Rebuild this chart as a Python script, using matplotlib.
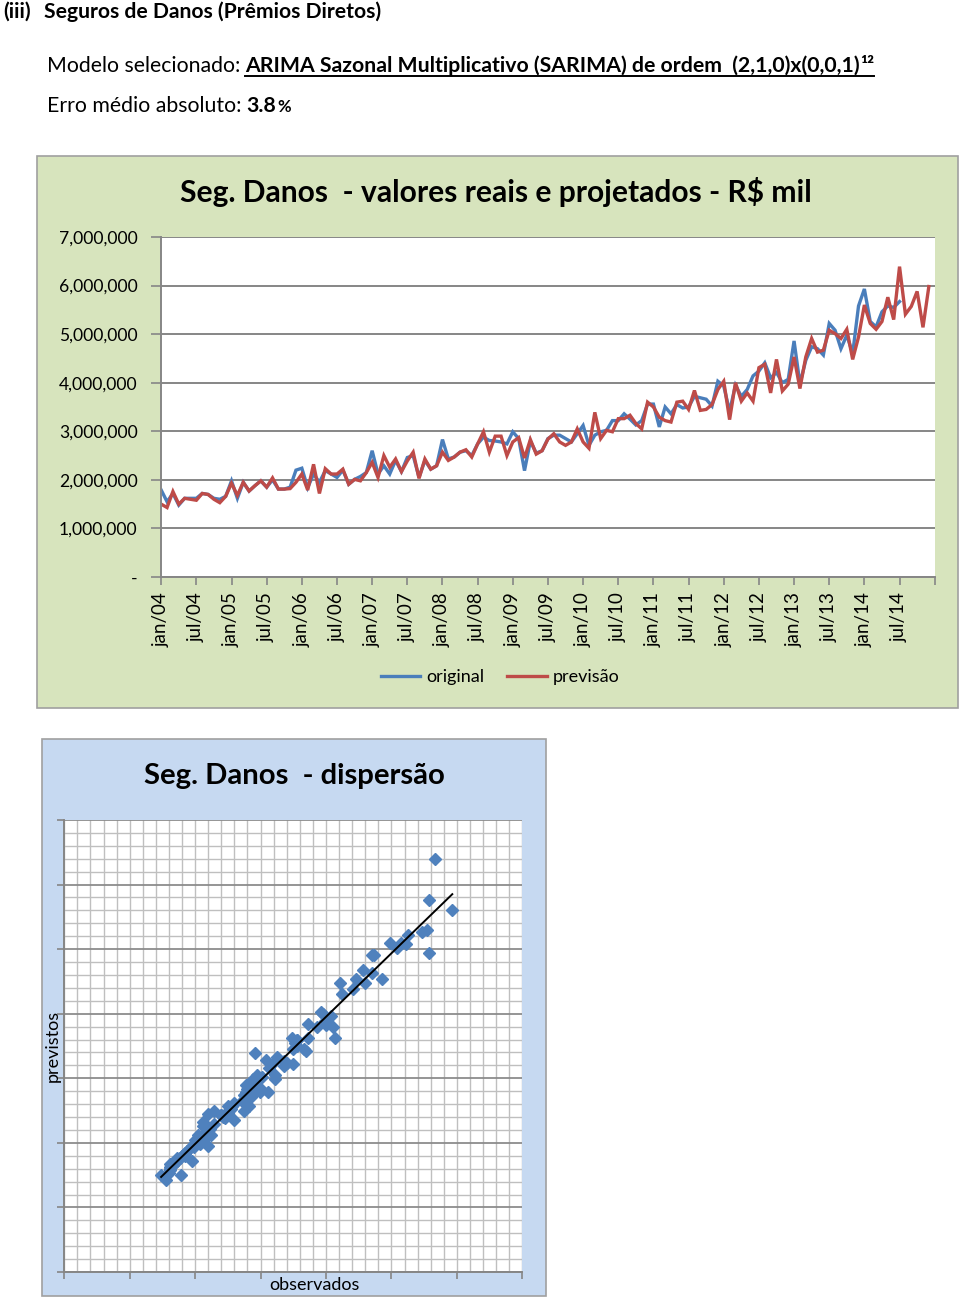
import matplotlib
matplotlib.use('Agg')
import matplotlib.pyplot as plt
from matplotlib.patches import Rectangle
from matplotlib.lines import Line2D
import numpy as np

plt.rcParams['font.family'] = ['Lato', 'DejaVu Sans']

# ---------------- data (R$ mil, in millions) ----------------
x_tick_labels = ['jan/04', 'jul/04', 'jan/05', 'jul/05', 'jan/06', 'jul/06',
                 'jan/07', 'jul/07', 'jan/08', 'jul/08', 'jan/09', 'jul/09',
                 'jan/10', 'jul/10', 'jan/11', 'jul/11', 'jan/12', 'jul/12',
                 'jan/13', 'jul/13', 'jan/14', 'jul/14', '']
y_tick_labels = ['-', '1,000,000', '2,000,000', '3,000,000', '4,000,000',
                 '5,000,000', '6,000,000', '7,000,000']

original_m = [
    1.79, 1.55, 1.72, 1.48, 1.62, 1.62, 1.62, 1.72, 1.70, 1.62, 1.60, 1.66,
    1.98, 1.62, 1.95, 1.77, 1.88, 1.98, 1.85, 2.00, 1.81, 1.81, 1.85, 2.20,
    2.24, 1.84, 2.12, 1.95, 2.19, 2.12, 2.05, 2.20, 1.91, 2.01, 2.07, 2.15,
    2.60, 2.12, 2.29, 2.12, 2.40, 2.17, 2.46, 2.50, 2.05, 2.40, 2.22, 2.29,
    2.83, 2.43, 2.47, 2.57, 2.60, 2.50, 2.74, 2.88, 2.81, 2.80, 2.78, 2.74,
    2.99, 2.85, 2.19, 2.80, 2.55, 2.60, 2.85, 2.92, 2.92, 2.85, 2.78, 2.95,
    3.12, 2.71, 2.92, 2.99, 3.02, 3.22, 3.22, 3.36, 3.25, 3.13, 3.22, 3.56,
    3.56, 3.09, 3.50, 3.36, 3.55, 3.48, 3.50, 3.72, 3.69, 3.66, 3.52, 4.03,
    3.93, 3.41, 3.95, 3.72, 3.86, 4.14, 4.24, 4.41, 4.10, 4.21, 4.00, 4.07,
    4.86, 3.98, 4.46, 4.74, 4.70, 4.57, 5.22, 5.08, 4.70, 4.98, 4.60, 5.58,
    5.93, 5.26, 5.15, 5.46, 5.58, 5.55, 5.67]

previsao_m = [
    1.50, 1.43, 1.76, 1.50, 1.62, 1.60, 1.58, 1.72, 1.70, 1.60, 1.53, 1.66,
    1.93, 1.68, 1.95, 1.77, 1.88, 1.98, 1.85, 2.04, 1.81, 1.81, 1.82, 1.95,
    2.12, 1.79, 2.32, 1.72, 2.23, 2.12, 2.12, 2.22, 1.91, 2.01, 1.98, 2.15,
    2.36, 2.05, 2.50, 2.26, 2.43, 2.17, 2.39, 2.57, 2.03, 2.43, 2.22, 2.29,
    2.57, 2.40, 2.47, 2.57, 2.62, 2.47, 2.74, 2.99, 2.57, 2.90, 2.90, 2.50,
    2.78, 2.87, 2.45, 2.83, 2.53, 2.60, 2.84, 2.95, 2.78, 2.71, 2.78, 3.05,
    2.78, 2.65, 3.39, 2.85, 3.02, 2.99, 3.26, 3.26, 3.33, 3.16, 3.05, 3.60,
    3.50, 3.29, 3.22, 3.19, 3.60, 3.62, 3.45, 3.84, 3.43, 3.45, 3.55, 3.86,
    4.03, 3.24, 4.00, 3.62, 3.79, 3.62, 4.31, 4.38, 3.79, 4.48, 3.83, 3.97,
    4.53, 3.88, 4.53, 4.91, 4.63, 4.67, 5.08, 5.01, 4.91, 5.10, 4.48, 4.94,
    5.60, 5.22, 5.10, 5.26, 5.76, 5.30, 6.39, 5.41, 5.57, 5.88, 5.14, 5.98]

original = np.array(original_m) * 1e6
previsao = np.array(previsao_m) * 1e6

# ---------------- figure ----------------
W, H = 960, 1301
fig = plt.figure(figsize=(W / 100, H / 100), dpi=100)


def fy(y):
    return 1 - y / H


def rect_px(x0, y0, x1, y1):
    return [x0 / W, 1 - y1 / H, (x1 - x0) / W, (y1 - y0) / H]


def seq_text(pieces, x0, ybase):
    r = fig.canvas.get_renderer()
    x = x0
    arts = []
    for s, gap, kw in pieces:
        x += gap
        t = fig.text(x / W, fy(ybase), s, va='baseline', ha='left', **kw)
        bb = t.get_window_extent(renderer=r)
        arts.append((t, bb.x0, bb.x1))
        x = bb.x1
    return arts


# background panels (behind the axes)
fig.patches.append(Rectangle((37 / W, fy(708)), (958 - 37) / W, (708 - 156) / H,
                             transform=fig.transFigure, facecolor='#D7E4BD',
                             edgecolor='#A0A0A0', lw=1.2, zorder=-10))
fig.patches.append(Rectangle((42 / W, fy(1296)), (546 - 42) / W, (1296 - 739) / H,
                             transform=fig.transFigure, facecolor='#C6D9F1',
                             edgecolor='#A0A0A0', lw=1.2, zorder=-10))

# header texts
seq_text([('(iii)', 0, dict(fontsize=15.2, fontweight='bold')),
          ('Seguros de Danos (Prêmios Diretos)', 13, dict(fontsize=15.2, fontweight='bold'))],
         3, 18)
arts = seq_text([('Modelo selecionado:', 0, dict(fontsize=15.3)),
                 ('ARIMA Sazonal Multiplicativo (SARIMA) de ordem  (2,1,0)x(0,0,1)', 5,
                  dict(fontsize=15.3, fontweight='bold')),
                 ('¹²', 0, dict(fontsize=15.3, fontweight='bold'))],
                47, 72)
ux0, ux1 = arts[1][1], arts[2][2]
fig.add_artist(Line2D([ux0 / W, ux1 / W], [fy(76), fy(76)], transform=fig.transFigure,
                      color='black', lw=1.4))
seq_text([('Erro médio absoluto:', 0, dict(fontsize=15.3)),
          ('3.8', 5, dict(fontsize=15.3, fontweight='bold')),
          ('%', 1, dict(fontsize=12, fontweight='bold'))],
         47, 112)

# ---------------- line chart ----------------
ax = fig.add_axes(rect_px(161.2, 237, 934.7, 577))
ax.set_facecolor('white')
ax.plot(np.arange(len(original)), original, color='#4A7EBB', lw=2.4,
        solid_joinstyle='miter', label='original')
ax.plot(np.arange(len(previsao)), previsao, color='#BE4B48', lw=2.4,
        solid_joinstyle='miter', label='previsão')
ax.set_xlim(0, 132)
ax.set_ylim(0, 7e6)
ax.set_yticks(np.arange(0, 7.01e6, 1e6))
ax.set_yticklabels(y_tick_labels)
ax.set_xticks(np.arange(0, 133, 6))
ax.set_xticklabels(x_tick_labels, rotation=90)
ax.grid(axis='y', color='#868686', lw=1.4)
ax.set_axisbelow(True)
for s in ['top', 'right']:
    ax.spines[s].set_visible(False)
for s in ['left', 'bottom']:
    ax.spines[s].set_color('#868686')
    ax.spines[s].set_linewidth(1.4)
ax.tick_params(axis='y', length=7, width=1.2, color='#868686', pad=10,
               labelsize=12.6, labelcolor='black')
ax.tick_params(axis='x', length=6, width=1.2, color='#868686', pad=5,
               labelsize=13.5, labelcolor='black')

fig.text(496 / W, fy(192), 'Seg. Danos  - valores reais e projetados - R$ mil',
         ha='center', va='center', fontsize=21.6, fontweight='bold')

ax.legend(loc='center', bbox_to_anchor=(500 / W, fy(677)), bbox_transform=fig.transFigure,
          ncol=2, frameon=False, fontsize=13, handlelength=2.2, handletextpad=0.3,
          columnspacing=1.3)

# ---------------- scatter ----------------
n = len(original)
obs = original[:n]
prev = previsao[:n]

ax2 = fig.add_axes(rect_px(64.3, 820, 522.3, 1272))
ax2.set_facecolor('white')
ax2.set_xlim(0, 7e6)
ax2.set_ylim(0, 7e6)
ax2.set_xticks(np.arange(0, 7.01e6, 1e6))
ax2.set_yticks(np.arange(0, 7.01e6, 1e6))
ax2.set_xticks(np.arange(0, 7.01e6, 2e5), minor=True)
ax2.set_yticks(np.arange(0, 7.01e6, 2e5), minor=True)
ax2.set_xticklabels([])
ax2.set_yticklabels([])
ax2.grid(which='minor', color='#BFBFBF', lw=1.0)
ax2.grid(which='major', axis='x', color='#BFBFBF', lw=1.0)
ax2.grid(which='major', axis='y', color='#8C8C8C', lw=1.3)
ax2.set_axisbelow(True)
ax2.tick_params(which='minor', length=0)
ax2.tick_params(which='major', length=5, width=1.2, color='#868686')
for s in ['top', 'right']:
    ax2.spines[s].set_visible(False)
for s in ['left', 'bottom']:
    ax2.spines[s].set_color('#868686')
    ax2.spines[s].set_linewidth(1.4)

ax2.plot(obs, prev, 'D', color='#4F81BD', ms=6.0, mec='#4F81BD', zorder=3)
coef = np.polyfit(obs, prev, 1)
xs = np.array([obs.min(), obs.max()])
ax2.plot(xs, np.polyval(coef, xs), color='black', lw=1.4, zorder=4)

fig.text(294 / W, fy(776), 'Seg. Danos  - dispersão', ha='center', va='center',
         fontsize=21.1, fontweight='bold')
fig.text(53 / W, fy(1046), 'previstos', ha='center', va='center', rotation=90,
         fontsize=13)
fig.text(314 / W, fy(1285), 'observados', ha='center', va='center', fontsize=13)

fig.savefig('out.png', dpi=100)
